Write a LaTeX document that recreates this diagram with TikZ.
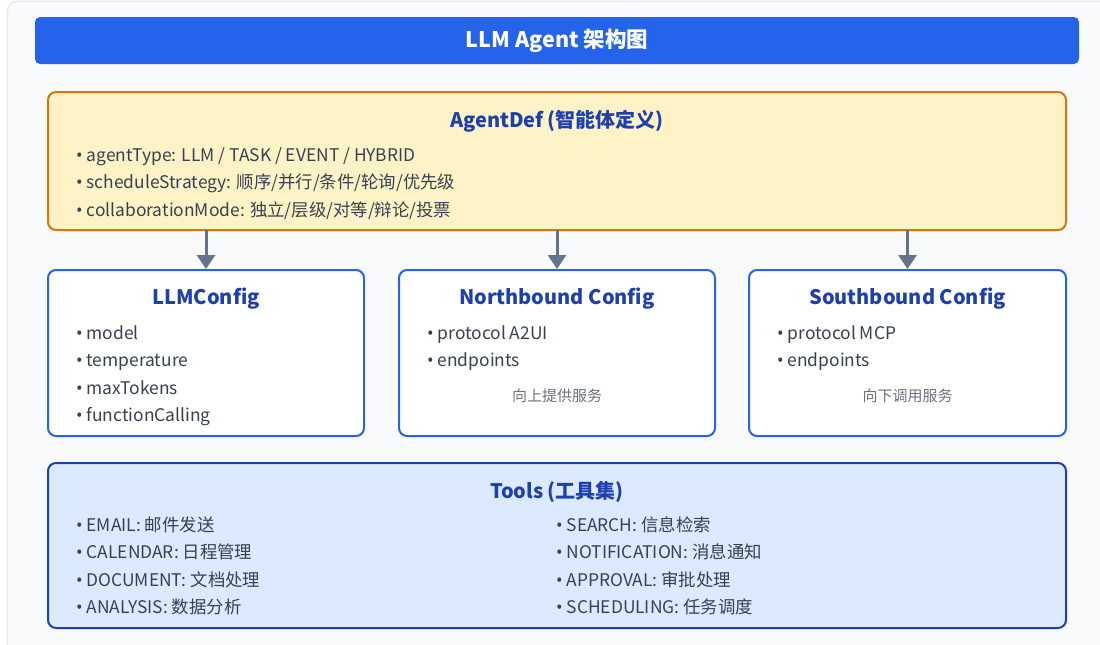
\documentclass[tikz,border=0pt]{standalone}
\usepackage{fontspec}
\setmainfont{Noto Sans CJK SC}
\newfontfamily\bulfont{Noto Sans}
\newcommand\bu{{\bulfont •} }
\usetikzlibrary{arrows.meta}
\definecolor{pagebg}{HTML}{F9FAFB}
\definecolor{pageline}{HTML}{E5E7EB}
\definecolor{hdrblue}{HTML}{2563EB}
\definecolor{titleblue}{HTML}{1E40AF}
\definecolor{agentfill}{HTML}{FEF3C7}
\definecolor{agentline}{HTML}{D97706}
\definecolor{toolfill}{HTML}{DBEAFE}
\definecolor{txt}{HTML}{374151}
\definecolor{notegray}{HTML}{6B7280}
\definecolor{arrgray}{HTML}{64748B}
\tikzset{
  box/.style={rounded corners=8pt, line width=2pt},
  ttl/.style={font=\fontsize{20}{24}\selectfont\bfseries, text=titleblue, inner sep=0pt, yshift=-1.5pt},
  item/.style={font=\fontsize{17.4}{20}\selectfont, text=txt, anchor=west, inner sep=0pt, text height=14.5pt, text depth=1.5pt},
  note/.style={font=\fontsize{15}{18}\selectfont, text=notegray, inner sep=0pt},
  arr/.style={draw=arrgray, line width=3pt, -{Triangle[length=14pt,width=18pt]}},
}
\begin{document}
\begin{tikzpicture}[x=1pt,y=-1pt]
\useasboundingbox (0,0) rectangle (1100,645);
\fill[white] (0,0) rectangle (1100,645);
\draw[pageline, fill=pagebg, rounded corners=10pt, line width=1pt] (7.5,1) rectangle (1115,660);
% header
\node[fill=hdrblue, rounded corners=5pt, minimum width=1044pt, minimum height=47pt, inner sep=0pt,
      text=white, font=\fontsize{21.5}{26}\selectfont\bfseries] (hdr) at (557,40.5) {LLM Agent 架构图};
% AgentDef
\draw[box, draw=agentline, fill=agentfill] (48,92) rectangle (1066,230);
\coordinate (agentS) at (557,230);
\node[ttl] (agentT) at (557,120) {AgentDef (智能体定义)};
\node[item] (a1) at (76,155) {\bu agentType: LLM / TASK / EVENT / HYBRID};
\node[item] (a2) at (76,182) {\bu scheduleStrategy: 顺序/并行/条件/轮询/优先级};
\node[item] (a3) at (76,210) {\bu collaborationMode: 独立/层级/对等/辩论/投票};
% config boxes
\node[box, draw=hdrblue, fill=white, minimum width=316pt, minimum height=166pt, inner sep=0pt] (llm) at (206,353) {};
\node[box, draw=hdrblue, fill=white, minimum width=316pt, minimum height=166pt, inner sep=0pt] (nb) at (557,353) {};
\node[box, draw=hdrblue, fill=white, minimum width=317pt, minimum height=166pt, inner sep=0pt] (sb) at (907.5,353) {};
\node[ttl] (llmT) at (206,297) {LLMConfig};
\node[item] (l1) at (76,333) {\bu model};
\node[item] (l2) at (76,360) {\bu temperature};
\node[item] (l3) at (76,388) {\bu maxTokens};
\node[item] (l4) at (76,415) {\bu functionCalling};
\node[ttl] (nbT) at (557,297) {Northbound Config};
\node[item] (n1) at (427,333) {\bu protocol A2UI};
\node[item] (n2) at (427,360) {\bu endpoints};
\node[note] (nN) at (557,396) {向上提供服务};
\node[ttl] (sbT) at (907.5,297) {Southbound Config};
\node[item] (s1) at (777,333) {\bu protocol MCP};
\node[item] (s2) at (777,360) {\bu endpoints};
\node[note] (sN) at (907.5,396) {向下调用服务};
% arrows
\draw[arr] (agentS -| llm.north) -- (llm.north);
\draw[arr] (agentS -| nb.north) -- (nb.north);
\draw[arr] (agentS -| sb.north) -- (sb.north);
% Tools
\draw[box, draw=titleblue, fill=toolfill] (48,463) rectangle (1066,628);
\node[ttl] (toolT) at (557,490) {Tools (工具集)};
\node[item] (t1) at (76,525) {\bu EMAIL: 邮件发送};
\node[item] (t2) at (76,552) {\bu CALENDAR: 日程管理};
\node[item] (t3) at (76,580) {\bu DOCUMENT: 文档处理};
\node[item] (t4) at (76,607) {\bu ANALYSIS: 数据分析};
\node[item] (t5) at (556,525) {\bu SEARCH: 信息检索};
\node[item] (t6) at (556,552) {\bu NOTIFICATION: 消息通知};
\node[item] (t7) at (556,580) {\bu APPROVAL: 审批处理};
\node[item] (t8) at (556,607) {\bu SCHEDULING: 任务调度};
\end{tikzpicture}
\end{document}
